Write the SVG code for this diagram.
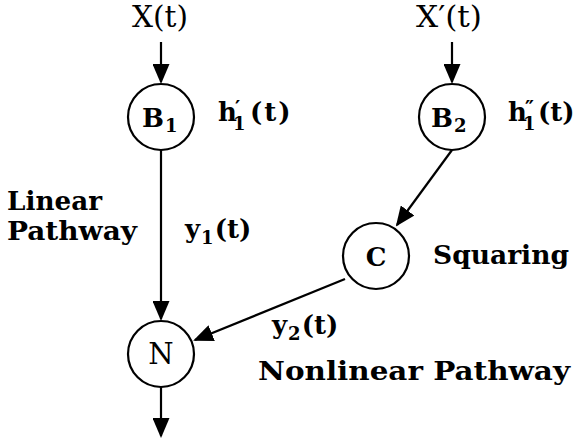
<svg xmlns="http://www.w3.org/2000/svg" width="577" height="440" viewBox="0 0 577 440">
<defs>
<style>
.node{fill:#fff;stroke:#000;stroke-width:2.2}
.edge{fill:none;stroke:#000;stroke-width:2.2}
.rm{font-family:"DejaVu Serif","Liberation Serif",serif;font-size:29px;fill:#000}
.bd{font-family:"DejaVu Serif","Liberation Serif",serif;font-size:26px;font-weight:bold;fill:#000}
.sub{font-size:18px}
.pr{font-size:20px}
</style>
<marker id="ah" markerUnits="userSpaceOnUse" markerWidth="20" markerHeight="17" refX="18" refY="8.5" orient="auto">
<path d="M0,0 L20,8.5 L0,17 z" fill="#000"/>
</marker>
</defs>
<rect width="577" height="440" fill="#fff"/>
<g id="connectors">
<line class="edge" x1="161" y1="42" x2="161" y2="82" marker-end="url(#ah)"/>
<line class="edge" x1="452" y1="42" x2="452" y2="82" marker-end="url(#ah)"/>
<line class="edge" x1="161" y1="150" x2="161" y2="319" marker-end="url(#ah)"/>
<line class="edge" x1="452" y1="150" x2="397" y2="225" marker-end="url(#ah)"/>
<line class="edge" x1="345" y1="279" x2="195" y2="340" marker-end="url(#ah)"/>
<line class="edge" x1="161" y1="387" x2="161" y2="436" marker-end="url(#ah)"/>
</g>
<g id="input-x">
<text class="rm" x="132" y="27" textLength="56" lengthAdjust="spacingAndGlyphs">X(t)</text>
</g>
<g id="input-xp">
<text class="rm" x="416" y="27" textLength="66" lengthAdjust="spacingAndGlyphs">X′(t)</text>
</g>
<g id="B1">
<circle class="node" cx="161" cy="117" r="33"/>
<text class="bd" x="142" y="127">B<tspan class="sub" dx="1" dy="5">1</tspan></text>
</g>
<g id="B2">
<circle class="node" cx="452" cy="117" r="33"/>
<text class="bd" x="431" y="127">B<tspan class="sub" dx="1" dy="5">2</tspan></text>
</g>
<g id="C">
<circle class="node" cx="376" cy="256" r="33"/>
<text class="bd" x="376" y="266" text-anchor="middle">C</text>
</g>
<g id="N">
<circle class="node" cx="161" cy="354" r="33"/>
<text class="rm" x="161" y="364" text-anchor="middle">N</text>
</g>
<g id="labels">
<text class="bd" x="218" y="121">h<tspan class="pr" x="235" dy="-6">′</tspan><tspan class="sub" x="233" dy="15">1</tspan><tspan x="250" dy="-9" letter-spacing="2">(t)</tspan></text>
<text class="bd" x="508" y="121">h<tspan class="pr" x="525" dy="-6">″</tspan><tspan class="sub" x="523" dy="15">1</tspan><tspan x="538" dy="-9">(t)</tspan></text>
<text class="bd" x="7" y="210" textLength="95" lengthAdjust="spacingAndGlyphs">Linear</text>
<text class="bd" x="7" y="240" textLength="130" lengthAdjust="spacingAndGlyphs">Pathway</text>
<text class="bd" x="185" y="238">y<tspan class="sub" dx="1" dy="6">1</tspan><tspan dx="1" dy="-6">(t)</tspan></text>
<text class="bd" x="433" y="264" textLength="136" lengthAdjust="spacingAndGlyphs">Squaring</text>
<text class="bd" x="272" y="334">y<tspan class="sub" dx="1" dy="6">2</tspan><tspan dx="1" dy="-6">(t)</tspan></text>
<text class="bd" x="258" y="380" textLength="312" lengthAdjust="spacingAndGlyphs">Nonlinear Pathway</text>
</g>
</svg>
